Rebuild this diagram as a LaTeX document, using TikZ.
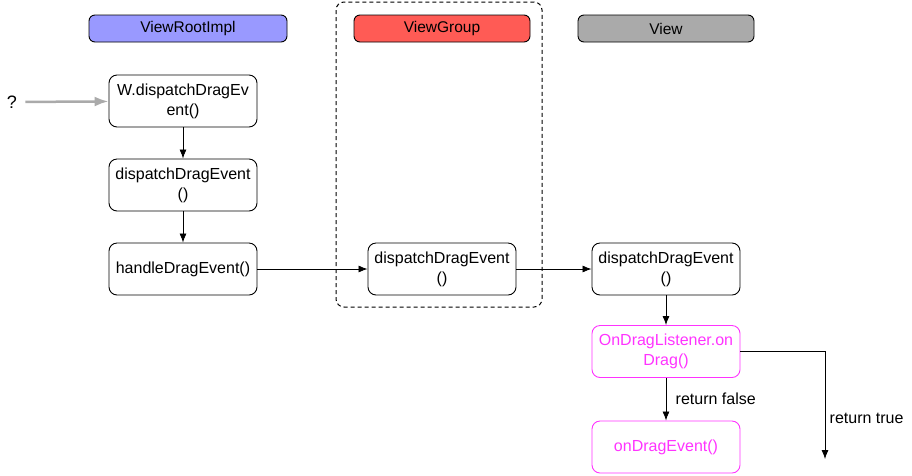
\documentclass[tikz,border=0pt]{standalone}
\usepackage{fontspec}
\setmainfont{Liberation Sans}
\usetikzlibrary{arrows.meta}
\definecolor{rootblue}{HTML}{9999FF}
\definecolor{groupred}{HTML}{FF5B55}
\definecolor{viewgray}{HTML}{AAAAAA}
\definecolor{listenpink}{HTML}{FF33FF}
\tikzset{
  header/.style={draw, rounded corners=6pt, line width=0.9pt, minimum height=27pt,
    inner sep=0pt, font=\fontsize{15.5}{18}\selectfont},
  call/.style={draw, rounded corners=8pt, line width=0.9pt, minimum width=148pt,
    minimum height=52pt, inner sep=0pt, align=center, font=\fontsize{16}{20}\selectfont},
  listener/.style={call, draw=listenpink, text=listenpink},
  flow/.style={-{Latex[length=9pt,width=7pt]}, line width=0.8pt},
  label/.style={font=\fontsize{16}{20}\selectfont}
}
\begin{document}
\begin{tikzpicture}[x=1pt,y=-1pt]
\useasboundingbox (0,0) rectangle (912,475);

% lanes
\draw[dashed, dash pattern=on 4pt off 3pt, rounded corners=8pt, line width=1pt] (336,2) rectangle (542,307);
\node[header, fill=rootblue, minimum width=198pt] (hdrRoot) at (188,28.5) {ViewRootImpl};
\node[header, fill=groupred, minimum width=176pt] (hdrGroup) at (442,28.5) {ViewGroup};
\node[header, fill=viewgray, minimum width=176pt] (hdrView) at (666,28.5) {View};

% ViewRootImpl
\node[font=\fontsize{18}{20}\selectfont, outer sep=5pt] (unknown) at (12,102) {?};
\node[call] (wDispatch) at (183,101) {W.dispatchDragEv\\ent()};
\node[call] (rootDispatch) at (183,185) {dispatchDragEvent\\()};
\node[call] (handleDrag) at (183,269) {handleDragEvent()};

% ViewGroup and View
\node[call] (groupDispatch) at (442,269) {dispatchDragEvent\\()};
\node[call] (viewDispatch) at (666,269) {dispatchDragEvent\\()};
\node[listener] (onDrag) at (666,351.5) {OnDragListener.on\\Drag()};
\node[listener] (onDragEvent) at (666,447) {onDragEvent()};
\coordinate (trueEnd) at (825,459);

\draw[-{Latex[length=14pt,width=10pt]}, viewgray, line width=2.5pt] (unknown) -- (wDispatch);
\draw[flow] (wDispatch) -- (rootDispatch);
\draw[flow] (rootDispatch) -- (handleDrag);
\draw[flow] (handleDrag) -- (groupDispatch);
\draw[flow] (groupDispatch) -- (viewDispatch);
\draw[flow] (viewDispatch) -- (onDrag);
\draw[flow] (onDrag) -- node[label, right=6pt] {return false} (onDragEvent);
\draw[flow] (onDrag.east) -| node[label, pos=0.81, right=1pt] {return true} (trueEnd);

\end{tikzpicture}
\end{document}
